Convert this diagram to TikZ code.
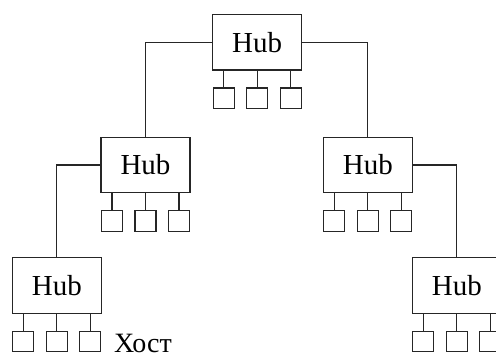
\documentclass[tikz,border=0pt]{standalone}
\usepackage{fontspec}
\setmainfont{Liberation Serif}
\usetikzlibrary{calc}
\begin{document}
\begin{tikzpicture}[x=1pt,y=-1pt,line width=1.2pt,color=black!85,
  hub/.style={draw,fill=white,minimum width=89pt,minimum height=55.5pt,inner sep=0pt,
    font=\fontsize{29}{35}\selectfont,text=black},
  host/.style={draw,minimum width=21pt,minimum height=20.5pt,inner sep=0pt},
  lbl/.style={font=\fontsize{28}{34}\selectfont,inner sep=0pt,text=black}]
\useasboundingbox (0,0) rectangle (496,353);
\clip (0,0) rectangle (496,353);

% three hosts hanging below a hub
\newcommand\hubhosts[1]{%
  \foreach \i/\dx in {1/-33.5,2/0,3/33.5}{%
    \node[host] (#1-h\i) at ($(#1)+(\dx,56)$) {};
    \draw (#1-h\i.north) -- (#1-h\i.north |- #1.south);
  }%
}

% hubs
\node[hub] (top) at (257.2,42.2) {Hub};
\node[hub] (ml)  at (145.5,165) {Hub};
\node[hub] (mr)  at (367.8,165) {Hub};
\node[hub] (bl)  at (56.8,285.5) {Hub};
\node[hub] (br)  at (456.8,285.5) {Hub};

% tree links
\draw (top.west) -| (ml.north);
\draw (top.east) -| (mr.north);
\draw (ml.west) -| (bl.north);
\draw (mr.east) -| (br.north);

% hosts
\hubhosts{top}
\hubhosts{ml}
\hubhosts{mr}
\hubhosts{bl}
\hubhosts{br}

\node[lbl,anchor=base west] (hostname) at ($(bl-h3.south east)+(12,0)$) {Хост};
\end{tikzpicture}
\end{document}
